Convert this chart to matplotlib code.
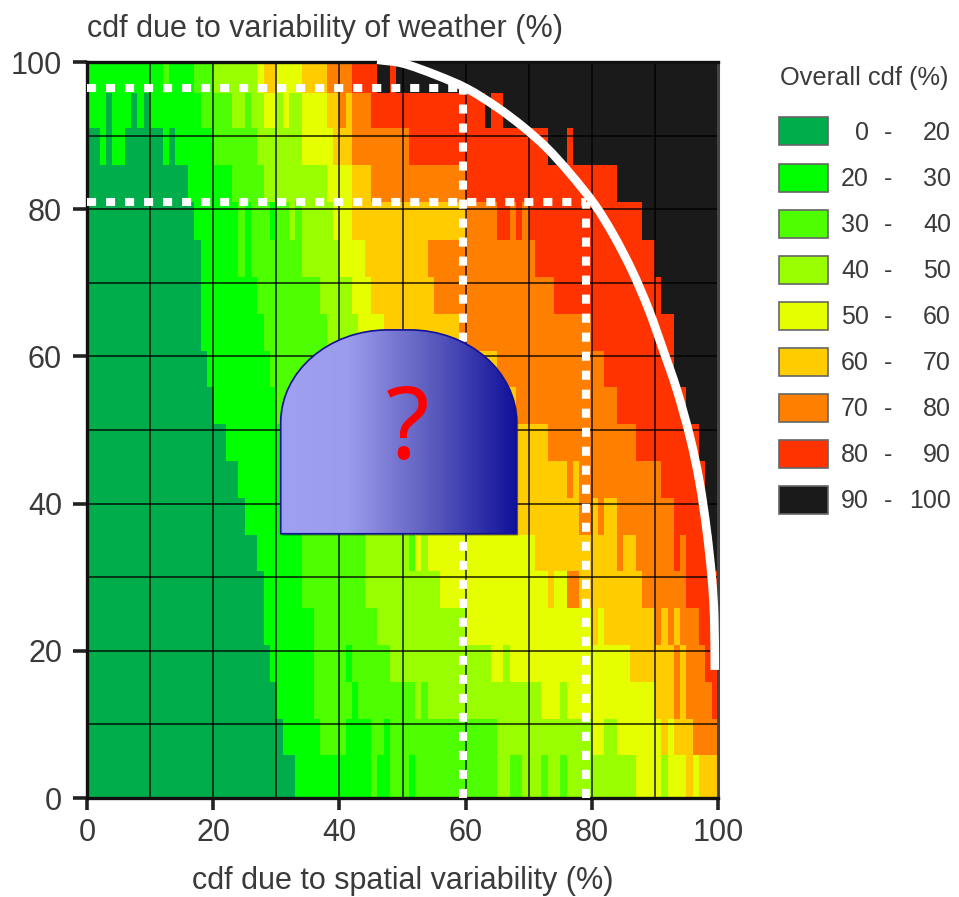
import numpy as np
import matplotlib
matplotlib.use("Agg")
import matplotlib.pyplot as plt
from matplotlib.colors import ListedColormap, BoundaryNorm, LinearSegmentedColormap
from matplotlib.patches import PathPatch, Rectangle
from matplotlib.path import Path
from matplotlib.transforms import ScaledTranslation

plt.rcParams['font.family'] = ['Liberation Sans', 'DejaVu Sans']

class_labels = [("0", "20"), ("20", "30"), ("30", "40"), ("40", "50"), ("50", "60"),
                ("60", "70"), ("70", "80"), ("80", "90"), ("90", "100")]
class_colors = ['#00ad4b', '#00ff00', '#4dff00', '#99ff00', '#e6ff00',
                '#ffcc00', '#ff8000', '#ff3300', '#1a1a1a']

y_edges = [0, 5.8, 10.8, 15.8, 20.8, 25.8, 30.8, 35.8, 40.8, 45.8, 50.8, 55.8,
           60.8, 65.8, 70.8, 75.8, 81, 86, 91, 95.8, 100]
x_edges = list(range(101))

# each row: (class, right edge of the run) read left to right
row_00 = [(0,33),(1,45),(2,46),(1,48),(2,51),(1,52),(2,65),(3,67),(2,69),(3,72),(2,73),(3,75),(2,76),(3,87),(4,91),(3,92),(4,95),(5,96),(4,97),(5,100)]
row_01 = [(0,31),(1,37),(2,41),(1,45),(2,47),(1,48),(2,65),(3,80),(4,82),(3,84),(4,91),(5,92),(4,93),(5,96),(6,100)]
row_02 = [(0,30),(1,36),(2,42),(1,43),(2,52),(3,53),(2,54),(3,72),(4,75),(3,76),(4,90),(5,93),(6,94),(5,95),(6,99),(7,100)]
row_03 = [(0,29),(1,36),(2,41),(1,42),(2,48),(3,64),(4,66),(3,67),(4,86),(5,93),(6,94),(5,95),(6,98),(7,100)]
row_04 = [(0,28),(1,36),(2,46),(3,60),(4,80),(5,81),(4,82),(5,90),(6,91),(5,92),(6,93),(5,94),(6,97),(7,99),(8,100)]
row_05 = [(0,28),(1,34),(2,44),(3,56),(4,73),(5,74),(4,76),(6,78),(5,88),(6,95),(7,100)]
row_06 = [(0,27),(1,34),(2,44),(3,51),(2,52),(4,53),(3,54),(4,71),(5,84),(6,85),(5,87),(6,93),(7,94),(6,95),(7,99),(8,100)]
row_07 = [(0,25),(1,34),(2,44),(3,50),(4,60),(5,78),(6,80),(5,81),(6,82),(5,84),(6,93),(7,98),(8,100)]
row_08 = [(0,24),(1,33),(2,42),(3,50),(4,60),(5,76),(6,77),(5,78),(6,91),(7,98),(8,100)]
row_09 = [(0,22),(1,32),(2,42),(3,50),(4,60),(5,73),(6,87),(7,97),(8,100)]
row_10 = [(0,20),(1,30),(2,40),(3,48),(4,55),(5,68),(6,84),(7,95),(8,100)]
row_11 = [(0,19),(1,29),(2,39),(3,45),(4,50),(5,65),(6,82),(7,93),(8,100)]
row_12 = [(0,18),(1,28),(2,38),(3,43),(4,47),(5,59),(6,80),(7,93),(8,100)]
row_13 = [(0,18),(1,27),(2,37),(3,42),(4,45),(5,55),(6,74),(7,91),(8,100)]
row_14 = [(0,18),(1,24),(2,25),(1,26),(2,34),(3,40),(4,44),(5,54),(6,71),(7,90),(8,100)]
row_15 = [(0,17),(1,24),(2,25),(1,26),(2,29),(1,30),(2,32),(3,33),(2,34),(3,39),(4,42),(5,60),(6,65),(7,67),(6,68),(7,69),(6,70),(7,88),(8,100)]
row_16 = [(0,16),(1,23),(2,28),(3,38),(4,42),(5,45),(6,60),(7,84),(8,100)]
row_17 = [(0,2),(1,3),(0,4),(1,6),(0,12),(1,13),(0,14),(1,20),(2,27),(3,34),(4,39),(5,42),(6,51),(7,73),(8,76),(7,77),(8,100)]
row_18 = [(1,3),(0,4),(1,7),(0,8),(1,9),(0,10),(1,18),(2,23),(3,25),(2,26),(3,28),(4,30),(3,31),(4,32),(3,34),(4,38),(5,40),(6,41),(5,42),(6,45),(7,63),(8,64),(7,66),(8,100)]
row_19 = [(1,12),(2,13),(1,17),(2,20),(3,27),(4,28),(5,30),(4,34),(5,38),(6,42),(7,46),(8,48),(7,49),(8,100)]
rows = [row_00, row_01, row_02, row_03, row_04, row_05, row_06, row_07, row_08, row_09,
        row_10, row_11, row_12, row_13, row_14, row_15, row_16, row_17, row_18, row_19]

curve_x = [46.0, 50.1, 55.4, 60.2, 64.9, 69.1, 72.9, 76.5, 80.4, 83.5, 86.4, 89.0, 91.3, 93.5, 95.6, 97.1, 98.2, 99.0, 99.4, 99.5]
curve_y = [100.3, 99.8, 98.2, 96.4, 93.9, 91.2, 88.3, 84.9, 80.7, 76.4, 71.6, 66.4, 60.9, 55.4, 48.9, 42.8, 36.4, 30.1, 24.6, 17.4]

guide_h = [(96.4, 59.6), (81.0, 79.1)]
guide_v = [(59.6, 96.4), (79.1, 81.0)]

ticks = [0, 20, 40, 60, 80, 100]
grid = list(range(10, 100, 10))

W, H = 959, 897
fig = plt.figure(figsize=(W / 100, H / 100), dpi=100, facecolor='white')
ax = fig.add_axes([87 / W, (H - 798) / H, 631 / W, 736 / H])

z = np.zeros((len(rows), len(x_edges) - 1), dtype=int)
for i, row in enumerate(rows):
    start = 0
    for cls, end in row:
        z[i, start:end] = cls
        start = end

cmap = ListedColormap(class_colors)
norm = BoundaryNorm(np.arange(-0.5, 9.5), cmap.N)
ax.pcolormesh(x_edges, y_edges, z, cmap=cmap, norm=norm, shading='flat', rasterized=True, zorder=1)
ax.set_xlim(0, 100)
ax.set_ylim(0, 100)

for g in grid:
    ax.axvline(g, color='#000000', lw=1.3, alpha=0.75, zorder=2)
    ax.axhline(g, color='#000000', lw=1.3, alpha=0.75, zorder=2)

for s in ax.spines.values():
    s.set_zorder(3)
for side in ('left', 'bottom', 'top'):
    ax.spines[side].set_linewidth(2.4)
    ax.spines[side].set_color('#111111')
ax.spines['right'].set_linewidth(2.2)
ax.spines['right'].set_color('#444444')

ax.set_xticks(ticks)
ax.set_yticks(ticks)
ax.tick_params(axis='y', length=10, width=2.6, color='#222222', labelsize=22, labelcolor='#3a3a3a', pad=8)
ax.tick_params(axis='x', length=8.5, width=2.6, color='#222222', labelsize=22, labelcolor='#3a3a3a', pad=6)

# dotted guides
dash = (0, (1.13, 1.23))
for y, xe in guide_h:
    ax.plot([0, xe], [y, y], color='white', lw=5.8, linestyle=dash, dash_capstyle='butt', zorder=4, clip_on=False)
for x, ye in guide_v:
    ax.plot([x, x], [0, ye], color='white', lw=5.8, linestyle=dash, dash_capstyle='butt', zorder=4, clip_on=False)

# white curve: Bezier segments through the read points
px = np.array(curve_x)
py = np.array(curve_y)
tx = np.gradient(px)
ty = np.gradient(py)
cv = [(px[0], py[0])]
cc = [Path.MOVETO]
for i in range(len(px) - 1):
    cv += [(px[i] + tx[i] / 3, py[i] + ty[i] / 3), (px[i + 1] - tx[i + 1] / 3, py[i + 1] - ty[i + 1] / 3), (px[i + 1], py[i + 1])]
    cc += [Path.CURVE4] * 3
ax.add_patch(PathPatch(Path(cv, cc), facecolor='none', edgecolor='white', lw=6.2, capstyle='butt', zorder=5, clip_on=False))

# tunnel-shaped marker with gradient
x0, x1, y0, ym, y1 = 30.7, 68.1, 35.9, 51.0, 63.6
rx = 17.0
k = 0.5523
verts = [(x0, y0), (x0, ym),
         (x0, ym + k * (y1 - ym)), (x0 + rx - k * rx, y1), (x0 + rx, y1),
         (x1 - rx, y1),
         (x1 - rx + k * rx, y1), (x1, ym + k * (y1 - ym)), (x1, ym),
         (x1, y0), (x0, y0)]
codes = [Path.MOVETO, Path.LINETO, Path.CURVE4, Path.CURVE4, Path.CURVE4, Path.LINETO,
         Path.CURVE4, Path.CURVE4, Path.CURVE4, Path.LINETO, Path.CLOSEPOLY]
shape = Path(verts, codes)
shadow = PathPatch(shape, facecolor='#000000', edgecolor='none', alpha=0.28, zorder=5.5,
                   transform=ax.transData + ScaledTranslation(1.5 / 100, -2 / 100, fig.dpi_scale_trans))
ax.add_patch(shadow)
grad = LinearSegmentedColormap.from_list('g', [(0, '#a0a0f0'), (0.28, '#9c9cec'), (0.62, '#5f5fc0'), (1, '#10109a')])
im = ax.imshow(np.linspace(0, 1, 256)[None, :], extent=(x0, x1, y0, y1), cmap=grad, aspect='auto', zorder=6, origin='lower')
outline = PathPatch(shape, facecolor='none', edgecolor='#10109a', lw=1.2, zorder=7)
ax.add_patch(outline)
im.set_clip_path(outline)
ax.set_xlim(0, 100)
ax.set_ylim(0, 100)
ax.text(50.8, 49.7, '?', color='#ff0000', fontsize=72, family='Noto Sans', ha='center', va='center', zorder=8)

ax.set_xlabel('cdf due to spatial variability (%)', fontsize=22, color='#3a3a3a')
ax.xaxis.set_label_coords((402.5 - 87) / 631, -(881 - 798) / 736, transform=ax.transAxes)
ax.xaxis.label.set_va('center')
fig.text(87 / W, 1 - 29 / H, 'cdf due to variability of weather (%)', fontsize=22, color='#3a3a3a', ha='left', va='center')

# legend in pixel coordinates
leg = fig.add_axes([0, 0, 1, 1], facecolor='none')
leg.set_xlim(0, W)
leg.set_ylim(H, 0)
leg.axis('off')
leg.text(864, 78, 'Overall cdf (%)', fontsize=18.3, color='#3a3a3a', ha='center', va='center')
for i, ((lo, hi), c) in enumerate(zip(class_labels, class_colors)):
    yc = 131.5 + i * 46.1
    leg.add_patch(Rectangle((779, yc - 14), 49, 28, facecolor=c, edgecolor='#666666', lw=1.2))
    leg.text(869, yc + 1, lo, fontsize=18, color='#3a3a3a', ha='right', va='center')
    leg.text(888, yc + 1, '-', fontsize=18, color='#3a3a3a', ha='center', va='center')
    leg.text(951, yc + 1, hi, fontsize=18, color='#3a3a3a', ha='right', va='center')

fig.savefig('out.png', dpi=100, facecolor='white')
